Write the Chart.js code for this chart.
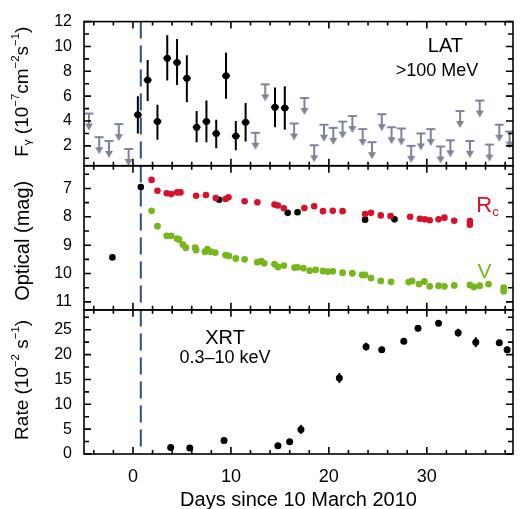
<!DOCTYPE html>
<html>
<head>
<meta charset="utf-8">
<script src="https://cdn.jsdelivr.net/npm/chart.js@4.4.0/dist/chart.umd.min.js"></script>
<style>
  html, body { margin: 0; padding: 0; background: #fff; }
  #caja { width: 520px; height: 509px; }
</style>
</head>
<body>
<div id="caja"><canvas id="grafico"></canvas></div>
<script>
// LAT > 100 MeV: detecciones (flujo en 1e-7 cm-2 s-1) con barras de error
var latDias = [0.5, 1.5, 2.5, 3.5, 4.5, 5.5, 6.5, 7.5, 8.5, 9.5, 10.5, 11.5, 14.5, 15.5];
var latFlujo = [4.5, 7.3, 3.95, 9.05, 8.7, 7.45, 3.5, 3.95, 3.0, 7.65, 2.8, 3.9, 5.1, 5.05];
var latErrSup = [6.0, 8.9, 5.3, 10.9, 10.6, 9.3, 4.8, 5.65, 4.1, 9.5, 4.0, 5.45, 6.7, 6.8];
var latErrInf = [3.0, 5.6, 2.5, 7.25, 6.9, 5.5, 2.3, 2.3, 1.8, 5.8, 1.65, 2.35, 3.5, 3.3];
var latMedioBin = 0.4;

// LAT: limites superiores
var limDias = [-4.5, -3.45, -2.45, -1.45, -0.45, 12.5, 13.5, 16.45, 17.5, 18.5, 19.5, 20.45, 21.4, 22.4, 23.45,
  24.4, 25.4, 26.4, 27.4, 28.4, 29.4, 30.4, 31.4, 32.4, 33.4, 34.4, 35.4, 36.4, 37.4, 38.45];
var limFlujo = [4.6, 2.7, 2.4, 3.75, 1.75, 3.05, 6.95, 3.8, 5.85, 2.05, 3.7, 3.45, 3.95, 4.4, 3.35,
  2.3, 4.55, 3.5, 3.4, 2.0, 3.0, 3.35, 1.95, 2.45, 4.8, 2.4, 5.65, 2.1, 3.7, 3.15];

// Optico: banda Rc
var rcDias = [1.9, 2.5, 3.45, 3.9, 4.5, 4.85, 6.45, 7.45, 8.45, 9.45, 9.75, 11.4, 12.7, 14.45, 14.8, 15.4, 17.5,
  18.5, 19.4, 20.4, 21.4, 23.7, 24.3, 25.3, 26.3, 28.3, 29.3, 29.8, 30.3, 31.2, 31.8, 32.8, 34.4, 34.4];
var rcMag = [6.70, 7.08, 7.17, 7.2, 7.14, 7.14, 7.26, 7.23, 7.34, 7.37, 7.31, 7.45, 7.49, 7.57, 7.6, 7.70, 7.69,
  7.63, 7.80, 7.79, 7.80, 7.9, 7.86, 7.95, 7.97, 8.0, 8.07, 8.09, 8.12, 8.09, 8.03, 8.14, 8.15, 8.28];

// Optico: banda V
var vDias = [1.9, 2.5, 3.45, 3.9, 4.5, 4.7, 5.1, 5.4, 6.35, 6.45, 7.35, 7.6, 7.95, 8.4, 9.45, 9.8, 10.5, 11.4,
  12.7, 13.1, 13.4, 14.45, 14.8, 15.4, 16.5, 16.8, 17.4, 18.05, 18.65, 19.4, 19.9, 20.4, 21.4, 22.4, 23.4, 23.7,
  24.3, 25.3, 26.35, 28.15, 28.5, 29.2, 29.75, 30.3, 31.2, 31.8, 32.8, 34.4, 34.8, 35.4, 36.3, 37.85, 37.85];
var vMag = [7.79, 8.33, 8.67, 8.67, 8.77, 8.80, 8.98, 9.09, 9.09, 9.17, 9.23, 9.14, 9.23, 9.26, 9.35, 9.38, 9.47, 9.50,
  9.60, 9.56, 9.64, 9.67, 9.77, 9.72, 9.79, 9.78, 9.81, 9.9, 9.87, 9.91, 9.93, 9.92, 9.97, 9.99, 10.05, 10.05,
  10.16, 10.26, 10.29, 10.30, 10.26, 10.37, 10.28, 10.45, 10.43, 10.45, 10.42, 10.40, 10.47, 10.43, 10.37, 10.5, 10.62];

// Optico: puntos negros
var negroDias = [-2.1, 0.8, 8.8, 15.8, 16.8, 23.7, 26.7];
var negroMag = [9.43, 6.95, 7.40, 7.86, 7.84, 8.10, 8.09];

// XRT 0.3-10 keV (tasa en 1e-2 s-1)
var xrtDias = [3.85, 5.8, 9.3, 14.8, 16.0, 17.15, 21.07, 23.8, 25.4, 27.65, 29.1, 31.2, 33.2, 35.0, 37.4, 38.2];
var xrtTasa = [1.3, 1.2, 2.7, 1.65, 2.45, 4.95, 15.3, 21.6, 21.0, 22.7, 25.3, 26.3, 24.4, 22.5, 22.4, 21.0];
var xrtErr = [0.4, 0.4, 0.5, 0.4, 0.5, 0.9, 1.0, 0.8, 0.5, 0.6, 0.6, 0.6, 0.8, 1.0, 0.6, 0.6];

var diaInicio = 0.8;

var fuente = '"Liberation Sans", Arial, sans-serif';
var rojo = '#d7102b';
var verde = '#77b61d';
var gris = '#7c8595';
var azul = '#2d4d8c';

function puntos(xs, ys) {
    var res = [];
    for (var i = 0; i < xs.length; i++) res.push({ x: xs[i], y: ys[i] });
    return res;
}

function sumar(a, b, signo) {
    return a.map((v, i) => v + signo * b[i]);
}

// flecha de limite superior: la barra queda en el centro del dibujo
function flecha(color) {
    var c = document.createElement('canvas');
    c.width = 12; c.height = 36;
    var g = c.getContext('2d');
    g.strokeStyle = color; g.fillStyle = color; g.lineWidth = 2;
    g.beginPath();
    g.moveTo(1.5, 18); g.lineTo(10.5, 18);
    g.moveTo(6, 18); g.lineTo(6, 29);
    g.stroke();
    g.beginPath();
    g.moveTo(2, 28); g.lineTo(10, 28); g.lineTo(6, 35); g.closePath();
    g.fill();
    return c;
}

function textoRico(ctx, partes, x, y, tam) {
    var total = 0;
    partes.forEach(p => {
        ctx.font = (p[1] ? tam * 0.6 : tam) + 'px ' + fuente;
        total += ctx.measureText(p[0]).width;
    });
    var cx = x - total / 2;
    partes.forEach(p => {
        var t = p[1] ? tam * 0.6 : tam;
        ctx.font = t + 'px ' + fuente;
        var dy = p[1] == 'sup' ? -tam * 0.38 : (p[1] == 'sub' ? tam * 0.28 : 0);
        ctx.fillText(p[0], cx, y + dy);
        cx += ctx.measureText(p[0]).width;
    });
}

const barrasError = {
    id: 'barrasError',
    beforeDatasetsDraw(chart) {
        const ctx = chart.ctx, x = chart.scales.x, a = chart.chartArea;
        // linea discontinua del inicio
        ctx.save();
        ctx.strokeStyle = azul; ctx.lineWidth = 2; ctx.setLineDash([17, 7]);
        ctx.beginPath();
        ctx.moveTo(x.getPixelForValue(diaInicio), a.top);
        ctx.lineTo(x.getPixelForValue(diaInicio), a.bottom);
        ctx.stroke();
        ctx.restore();

        chart.data.datasets.forEach(ds => {
            if (!ds.errSup) return;
            const y = chart.scales[ds.yAxisID];
            ctx.save();
            ctx.strokeStyle = '#000'; ctx.lineWidth = 2;
            ds.data.forEach((p, i) => {
                const px = x.getPixelForValue(p.x);
                ctx.beginPath();
                ctx.moveTo(px, y.getPixelForValue(ds.errSup[i]));
                ctx.lineTo(px, y.getPixelForValue(ds.errInf[i]));
                if (ds.errX) {
                    const py = y.getPixelForValue(p.y);
                    ctx.moveTo(x.getPixelForValue(p.x - ds.errX), py);
                    ctx.lineTo(x.getPixelForValue(p.x + ds.errX), py);
                }
                ctx.stroke();
            });
            ctx.restore();
        });
    }
};

const ejes = {
    id: 'ejes',
    afterDraw(chart) {
        const ctx = chart.ctx, x = chart.scales.x, a = chart.chartArea;
        ctx.save();
        ctx.strokeStyle = '#000'; ctx.lineWidth = 1.6;
        ['yLat', 'yOpt', 'yXrt'].forEach(id => {
            const s = chart.scales[id];
            ctx.strokeRect(a.left, s.top, a.right - a.left, s.bottom - s.top);
            ctx.beginPath();
            for (let v = Math.ceil(x.min / 2) * 2; v <= x.max; v += 2) {
                const px = x.getPixelForValue(v), l = v % 10 === 0 ? 7 : 4;
                ctx.moveTo(px, s.top); ctx.lineTo(px, s.top + l);
                ctx.moveTo(px, s.bottom); ctx.lineTo(px, s.bottom - l);
            }
            s.ticks.forEach(t => {
                const py = s.getPixelForValue(t.value), l = t.label !== '' ? 7 : 5;
                ctx.moveTo(a.left, py); ctx.lineTo(a.left + l, py);
                ctx.moveTo(a.right, py); ctx.lineTo(a.right - l, py);
            });
            ctx.stroke();
        });
        ctx.restore();

        // textos dentro de los paneles
        const yL = chart.scales.yLat, yO = chart.scales.yOpt, yX = chart.scales.yXrt;
        ctx.save();
        ctx.textAlign = 'center'; ctx.textBaseline = 'middle'; ctx.fillStyle = '#000';
        ctx.font = '20px ' + fuente;
        ctx.fillText('LAT', x.getPixelForValue(31.9), yL.getPixelForValue(10.0));
        ctx.font = '18px ' + fuente;
        ctx.fillText('>100 MeV', x.getPixelForValue(31.05), yL.getPixelForValue(8.05));
        ctx.font = '20px ' + fuente;
        ctx.fillText('XRT', x.getPixelForValue(9.4), yX.getPixelForValue(23.3));
        ctx.font = '18px ' + fuente;
        ctx.fillText('0.3\u201310 keV', x.getPixelForValue(9.4), yX.getPixelForValue(19.3));
        ctx.fillStyle = rojo;
        ctx.textAlign = 'left';
        textoRico(ctx, [['R', ''], ['c', 'sub']], x.getPixelForValue(36.2), yO.getPixelForValue(7.62), 22);
        ctx.fillStyle = verde;
        ctx.textAlign = 'center';
        ctx.font = '21px ' + fuente;
        ctx.fillText('V', x.getPixelForValue(35.9), yO.getPixelForValue(9.95));

        // titulos de los ejes y
        ctx.fillStyle = '#000';
        ctx.textAlign = 'left';
        const titulos = [
            [yL, [['F', ''], ['\u03b3', 'sub'], [' (10', ''], ['\u22127', 'sup'], ['cm', ''], ['\u22122', 'sup'], ['s', ''], ['\u22121', 'sup'], [')', '']], 19, -2],
            [yO, [['Optical (mag)', '']], 20, 3],
            [yX, [['Rate (10', ''], ['\u22122', 'sup'], [' s', ''], ['\u22121', 'sup'], [')', '']], 19, -2]
        ];
        titulos.forEach(t => {
            ctx.save();
            ctx.translate(23, (t[0].top + t[0].bottom) / 2 + t[3]);
            ctx.rotate(-Math.PI / 2);
            textoRico(ctx, t[1], 0, 0, t[2]);
            ctx.restore();
        });
        ctx.restore();
    }
};

Chart.defaults.font.family = fuente;
Chart.defaults.color = '#000';

const ctx = document.getElementById('grafico').getContext('2d');
const grafico = new Chart(ctx, {
    type: 'scatter',
    data: {
        datasets: [
            {
                label: 'LAT limites', data: puntos(limDias, limFlujo), yAxisID: 'yLat',
                pointStyle: flecha(gris), pointRadius: 6
            },
            {
                label: 'LAT', data: puntos(latDias, latFlujo), yAxisID: 'yLat',
                errSup: latErrSup, errInf: latErrInf, errX: latMedioBin,
                pointRadius: 3.5, backgroundColor: '#000', borderColor: '#000', borderWidth: 0
            },
            {
                label: 'Rc', data: puntos(rcDias, rcMag), yAxisID: 'yOpt',
                pointRadius: 3.3, backgroundColor: rojo, borderColor: rojo, borderWidth: 0
            },
            {
                label: 'V', data: puntos(vDias, vMag), yAxisID: 'yOpt',
                pointRadius: 3.4, backgroundColor: verde, borderColor: verde, borderWidth: 0
            },
            {
                label: 'negro', data: puntos(negroDias, negroMag), yAxisID: 'yOpt',
                pointRadius: 3.3, backgroundColor: '#000', borderColor: '#000', borderWidth: 0
            },
            {
                label: 'XRT', data: puntos(xrtDias, xrtTasa), yAxisID: 'yXrt',
                errSup: sumar(xrtTasa, xrtErr, 1), errInf: sumar(xrtTasa, xrtErr, -1),
                pointRadius: 3.5, backgroundColor: '#000', borderColor: '#000', borderWidth: 0
            }
        ]
    },
    options: {
        responsive: true,
        maintainAspectRatio: false,
        animation: false,
        devicePixelRatio: 1,
        layout: { padding: { top: 15, right: 1, left: 0, bottom: 0 } },
        plugins: { legend: { display: false }, tooltip: { enabled: false } },
        scales: {
            x: {
                type: 'linear', position: 'bottom', min: -5, max: 38.8,
                grid: { display: false, drawTicks: false }, border: { display: false },
                ticks: {
                    stepSize: 10, autoSkip: false, maxRotation: 0, padding: 12, includeBounds: false,
                    font: { size: 18 },
                    callback: v => v % 10 === 0 ? v : ''
                },
                title: { display: true, text: 'Days since 10 March 2010', font: { size: 20 }, padding: { top: 0, bottom: -3 } },
                afterFit: s => { s.height = 55; s.paddingLeft = 0; s.paddingRight = 0; }
            },
            yXrt: {
                type: 'linear', position: 'left', stack: 'paneles', stackWeight: 1, weight: 1,
                min: 0, max: 29,
                grid: { display: false, drawTicks: false }, border: { display: false },
                ticks: { stepSize: 2.5, autoSkip: false, padding: 12, includeBounds: false, font: { size: 16 }, callback: v => v % 5 === 0 ? v : '' },
                afterFit: s => { s.width = 84; }
            },
            yOpt: {
                type: 'linear', position: 'left', stack: 'paneles', stackWeight: 1, weight: 2,
                min: 6.2, max: 11.28, reverse: true,
                grid: { display: false, drawTicks: false }, border: { display: false },
                ticks: { stepSize: 0.5, autoSkip: false, padding: 12, includeBounds: false, font: { size: 16 }, callback: v => Number.isInteger(v) ? v : '' },
                afterFit: s => { s.width = 84; }
            },
            yLat: {
                type: 'linear', position: 'left', stack: 'paneles', stackWeight: 1, weight: 3,
                min: 0.4, max: 12,
                grid: { display: false, drawTicks: false }, border: { display: false },
                ticks: { stepSize: 1, autoSkip: false, padding: 12, includeBounds: false, font: { size: 16 }, callback: v => (Number.isInteger(v) && v % 2 === 0) ? v : '' },
                afterFit: s => { s.width = 84; }
            }
        }
    },
    plugins: [barrasError, ejes]
});
</script>
</body>
</html>
